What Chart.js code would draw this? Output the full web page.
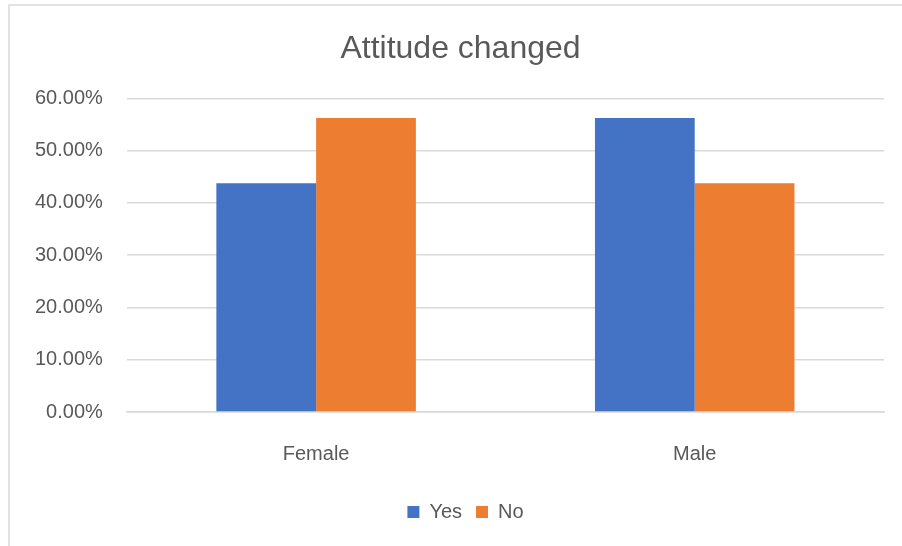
<!DOCTYPE html>
<html>
<head>
<meta charset="utf-8">
<script src="https://cdn.jsdelivr.net/npm/chart.js@4/dist/chart.umd.min.js"></script>
<style>
  html, body { margin: 0; padding: 0; background: #fff; }
  #wrap { width: 902px; height: 546px; position: relative; }
</style>
</head>
<body>
<div id="wrap"><canvas id="chart" width="902" height="546"></canvas></div>
<script>
const categories = ['Female', 'Male'];
const yesValues = [0.4375, 0.5625];
const noValues = [0.5625, 0.4375];
const seriesNames = ['Yes', 'No'];

const textColor = '#595959';
const gridColor = '#d9d9d9';
const fontFamily = "'Liberation Sans', Arial, sans-serif";

// light grey frame around the chart, cut off at right and bottom like the original
const framePlugin = {
  id: 'frame',
  beforeDraw(chart) {
    const ctx = chart.ctx;
    ctx.save();
    ctx.strokeStyle = '#d9d9d9';
    ctx.lineWidth = 1.5;
    ctx.beginPath();
    ctx.moveTo(9, 546);
    ctx.lineTo(9, 5);
    ctx.lineTo(902, 5);
    ctx.stroke();
    ctx.restore();
  }
};

// the original frame is wider than the picture, so title and legend sit a bit right of centre
const shiftPlugin = {
  id: 'shift',
  afterLayout(chart) {
    if (chart.titleBlock) { chart.titleBlock.left += 13; chart.titleBlock.right += 13; }
    if (chart.legend) { chart.legend.left += 18; chart.legend.right += 18; }
  }
};

new Chart(document.getElementById('chart'), {
  type: 'bar',
  data: {
    labels: categories,
    datasets: [
      { label: seriesNames[0], data: yesValues, backgroundColor: '#4472C4' },
      { label: seriesNames[1], data: noValues, backgroundColor: '#ED7D31' }
    ]
  },
  options: {
    responsive: false,
    animation: false,
    layout: { padding: { left: 11, right: 18, top: 30, bottom: 14 } },
    datasets: { bar: { barPercentage: 1, categoryPercentage: 0.527 } },
    plugins: {
      title: {
        display: true,
        text: 'Attitude changed',
        color: textColor,
        font: { family: fontFamily, size: 32, weight: 'normal' },
        padding: { top: 0, bottom: 30 }
      },
      legend: {
        position: 'bottom',
        labels: {
          color: textColor,
          font: { family: fontFamily, size: 20 },
          boxWidth: 12,
          boxHeight: 12,
          padding: 14
        }
      },
      tooltip: { enabled: false }
    },
    scales: {
      x: {
        grid: { display: false },
        border: { color: gridColor, width: 1.5 },
        ticks: { color: textColor, font: { family: fontFamily, size: 20, lineHeight: 1.7 }, padding: 17 }
      },
      y: {
        min: 0,
        max: 0.6,
        border: { display: false },
        grid: { color: gridColor, lineWidth: 1.5, drawTicks: false },
        ticks: {
          stepSize: 0.1,
          color: textColor,
          font: { family: fontFamily, size: 20 },
          padding: 24,
          callback: v => (v * 100).toFixed(2) + '%'
        }
      }
    }
  },
  plugins: [framePlugin, shiftPlugin]
});
</script>
</body>
</html>
